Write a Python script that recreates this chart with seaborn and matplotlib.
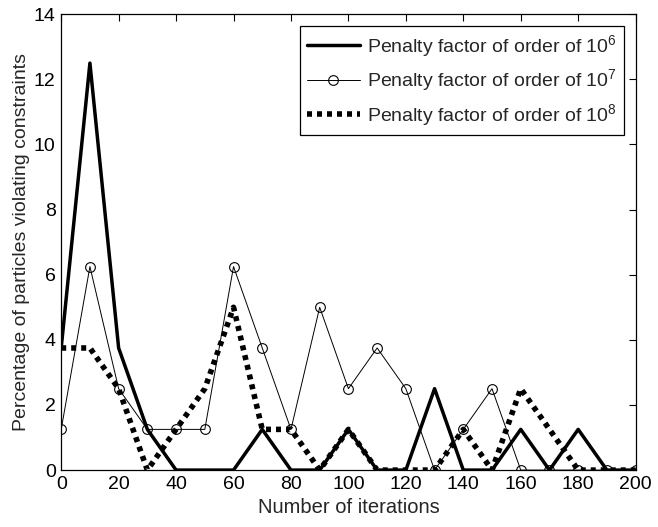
import numpy as np
import pandas as pd
import matplotlib
matplotlib.use("Agg")
import matplotlib.pyplot as plt
import seaborn as sns

iterations = [0, 10, 20, 30, 40, 50, 60, 70, 80, 90, 100, 110, 120, 130, 140, 150, 160, 170, 180, 190, 200]
pen_1e6 = [3.75, 12.5, 3.75, 1.25, 0, 0, 0, 1.25, 0, 0, 1.25, 0, 0, 2.5, 0, 0, 1.25, 0, 1.25, 0, 0]
pen_1e7 = [1.25, 6.25, 2.5, 1.25, 1.25, 1.25, 6.25, 3.75, 1.25, 5.0, 2.5, 3.75, 2.5, 0, 1.25, 2.5, 0, 0, 0, 0, 0]
pen_1e8 = [3.75, 3.75, 2.5, 0, 1.25, 2.5, 5.0, 1.25, 1.25, 0, 1.25, 0, 0, 0, 1.25, 0, 2.5, 1.25, 0, 0, 0]
labels = [r"Penalty factor of order of 10$^6$", r"Penalty factor of order of 10$^7$", r"Penalty factor of order of 10$^8$"]

sns.set_theme(style="white")
plt.rcParams['font.family'] = ['Liberation Sans', 'DejaVu Sans']
plt.rcParams['mathtext.fontset'] = 'custom'
plt.rcParams['mathtext.rm'] = 'Liberation Sans'
plt.rcParams['mathtext.it'] = 'Liberation Sans'

fig = plt.figure(figsize=(6.58, 5.27), dpi=100)
ax = fig.add_axes([0.093, 0.108, 0.873, 0.865])

df = pd.DataFrame({"x": iterations, "a": pen_1e6, "b": pen_1e7, "c": pen_1e8})
sns.lineplot(data=df, x="x", y="a", ax=ax, color="black", linewidth=2.5, label=labels[0])
sns.lineplot(data=df, x="x", y="b", ax=ax, color="black", linewidth=0.7, marker="o",
             markersize=7, markerfacecolor="none", markeredgecolor="black", markeredgewidth=0.8,
             label=labels[1])
sns.lineplot(data=df, x="x", y="c", ax=ax, color="black", linewidth=4, linestyle=(0, (0.9, 0.9)),
             label=labels[2])

ax.set_xlim(0, 200)
ax.set_ylim(0, 14)
ax.set_xticks(range(0, 201, 20))
ax.set_yticks(range(0, 15, 2))
ax.set_xlabel("Number of iterations", fontsize=14.5, labelpad=4)
ax.set_ylabel("Percentage of particles violating constraints", fontsize=14, labelpad=3)
ax.tick_params(direction="in", length=5, width=0.8, top=True, right=True, labelsize=14,
               colors="black", pad=4)
for s in ax.spines.values():
    s.set_color("black")
    s.set_linewidth(0.9)

leg = ax.legend(loc="upper right", fontsize=14, frameon=True, fancybox=False,
                edgecolor="black", framealpha=1, handlelength=2.7, borderaxespad=0.6,
                labelspacing=0.45, handletextpad=0.4, borderpad=0.35)
leg.get_frame().set_linewidth(0.9)

fig.savefig("out.png", dpi=100)
